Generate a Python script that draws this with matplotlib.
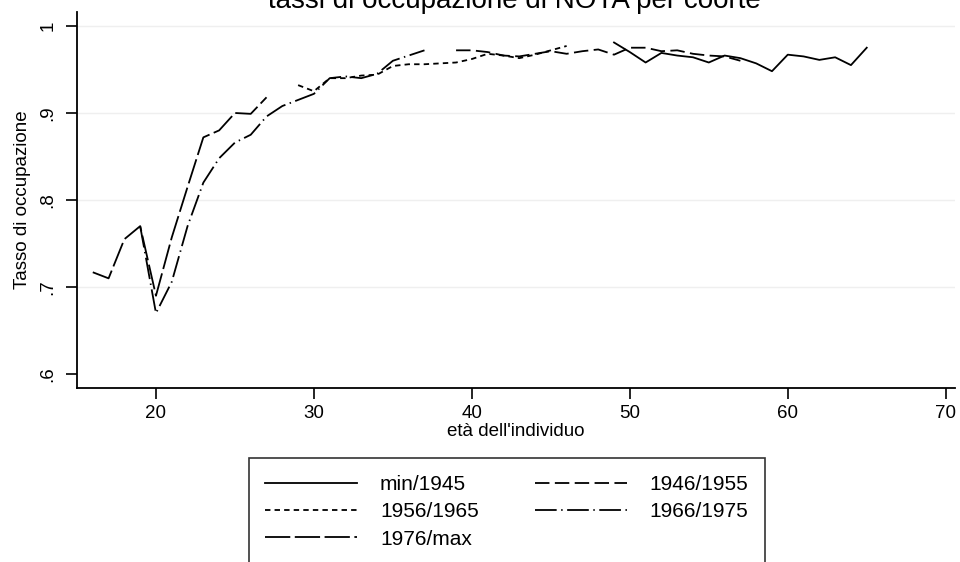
import numpy as np
import matplotlib
matplotlib.use("Agg")
import matplotlib.pyplot as plt

plt.rcParams['font.family'] = ['Liberation Sans', 'DejaVu Sans']

# eta' e tassi, una serie per coorte
age_pre45 = [49, 50, 51, 52, 53, 54, 55, 56, 57, 58, 59, 60, 61, 62, 63, 64, 65]
rate_pre45 = [0.981, 0.970, 0.958, 0.969, 0.966, 0.964, 0.958, 0.966, 0.963,
              0.957, 0.948, 0.967, 0.965, 0.961, 0.964, 0.955, 0.975]

age_4655 = [39, 40, 41, 42, 43, 44, 45, 46, 47, 48, 49, 50, 51, 52, 53, 54, 55, 56, 57]
rate_4655 = [0.972, 0.972, 0.970, 0.966, 0.965, 0.968, 0.971, 0.968, 0.971,
             0.973, 0.967, 0.975, 0.975, 0.971, 0.972, 0.968, 0.966, 0.965, 0.960]

age_5665 = [29, 30, 31, 32, 33, 34, 35, 36, 37, 38, 39, 40, 41, 42, 43, 44, 45, 46]
rate_5665 = [0.932, 0.925, 0.940, 0.940, 0.943, 0.944, 0.954, 0.956, 0.956,
             0.957, 0.958, 0.962, 0.968, 0.966, 0.963, 0.967, 0.972, 0.977]

age_6675 = [19, 20, 21, 22, 23, 24, 25, 26, 27, 28, 29, 30, 31, 32, 33, 34, 35, 36, 37]
rate_6675 = [0.770, 0.670, 0.706, 0.770, 0.820, 0.848, 0.866, 0.875, 0.896,
             0.908, 0.915, 0.922, 0.940, 0.942, 0.940, 0.945, 0.960, 0.966, 0.972]

age_76max = [16, 17, 18, 19, 20, 21, 22, 23, 24, 25, 26, 27]
rate_76max = [0.717, 0.710, 0.755, 0.770, 0.690, 0.757, 0.815, 0.872, 0.880,
              0.900, 0.899, 0.918]

labels = ["min/1945", "1946/1955", "1956/1965", "1966/1975", "1976/max"]
xticks = [20, 30, 40, 50, 60, 70]
yticks = [0.6, 0.7, 0.8, 0.9, 1.0]
ytick_labels = [".6", ".7", ".8", ".9", "1"]

fig = plt.figure(figsize=(9.6, 5.62), dpi=100)
ax = fig.add_axes([0.0802, 0.3096, 0.9148, 0.669])

lw = 1.3
ax.plot(age_pre45, rate_pre45, color='black', lw=lw, linestyle='-', label=labels[0])
ax.plot(age_4655, rate_4655, color='black', lw=lw, linestyle=(0, (8, 3)), label=labels[1])
ax.plot(age_5665, rate_5665, color='black', lw=lw, linestyle=(0, (3, 2.3)), label=labels[2])
ax.plot(age_6675, rate_6675, color='black', lw=lw, linestyle=(0, (12, 2.5, 0.8, 2.5)), label=labels[3])
ax.plot(age_76max, rate_76max, color='black', lw=lw, linestyle=(0, (14, 2.5)), label=labels[4])

ax.set_xlim(15, 70.6)
ax.set_ylim(0.584, 1.016)
ax.set_xticks(xticks)
ax.set_yticks(yticks)
ax.set_yticklabels(ytick_labels, rotation=90, va='center')
ax.tick_params(axis='both', labelsize=13.5, length=8, width=1.2, direction='out')
ax.tick_params(axis='y', pad=7)
ax.tick_params(axis='x', pad=4)

for yv in [0.7, 0.8, 0.9, 1.0]:
    ax.axhline(yv, color='#efefef', lw=1.0, zorder=0)

ax.spines['top'].set_visible(False)
ax.spines['right'].set_visible(False)
ax.spines['left'].set_linewidth(1.3)
ax.spines['bottom'].set_linewidth(1.3)

ax.set_xlabel("età dell'individuo", fontsize=13.5, labelpad=1)
ax.set_ylabel("Tasso di occupazione", fontsize=13.5, labelpad=6)
fig.text(0.536, 0.986, "tassi di occupazione di NOTA per coorte", fontsize=20,
         ha='center', va='baseline')

# righe come nel riferimento: fig.legend riempie per colonne
handles, labs = ax.get_legend_handles_labels()
order = [0, 2, 4, 1, 3]
leg = fig.legend([handles[i] for i in order], [labs[i] for i in order],
                 loc='upper center', bbox_to_anchor=(0.528, 0.203), ncol=2,
                 fontsize=15, frameon=True, fancybox=False, edgecolor='black',
                 handlelength=4.4, handletextpad=1.1, columnspacing=2.7,
                 labelspacing=0.4, borderpad=0.8)
leg.get_frame().set_linewidth(1.2)

fig.savefig("out.png", dpi=100)
